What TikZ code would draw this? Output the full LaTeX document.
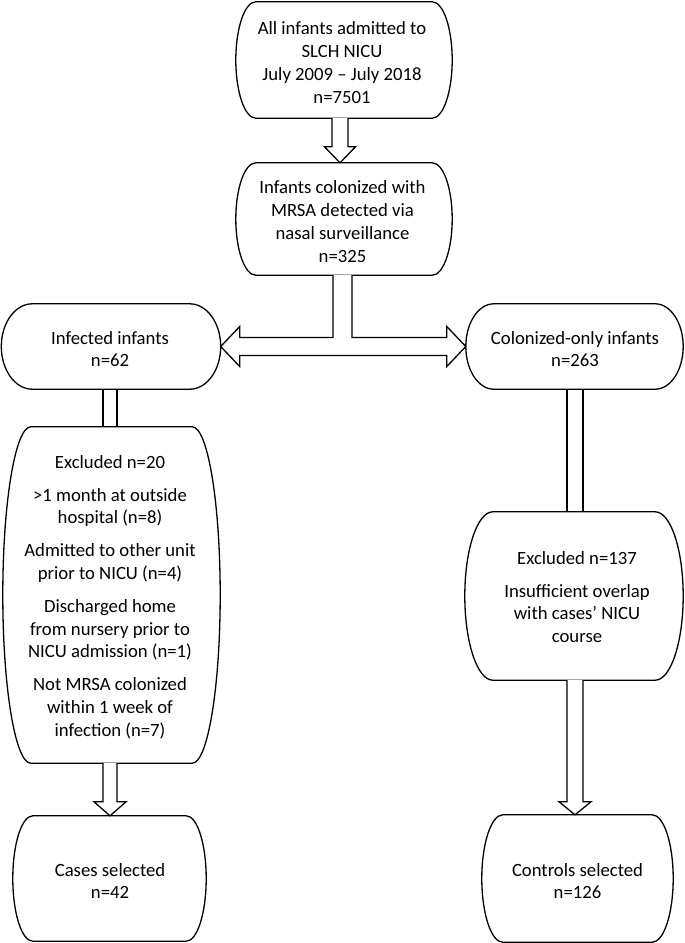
\documentclass[tikz,border=0pt]{standalone}
\usepackage{fontspec}
\setmainfont{Carlito}
\usetikzlibrary{calc}
\tikzset{
  boxline/.style={line width=1.3pt, draw=black},
  boxgeom/.style={draw=none, inner sep=0pt, anchor=center},
  flowtext/.style={draw=none, inner sep=0pt, align=center, anchor=center,
    font=\fontsize{18.7}{22.8}\selectfont},
  blockarrow/.style={line width=1.3pt, draw=black, fill=white, line join=miter},
  pipeline/.style={line width=1.3pt, draw=black}
}
% stadium-like box with half-elliptic ends, drawn round node #1 with end depth #2
\newcommand\stadiumbox[2]{%
  \draw[boxline] ([xshift=#2]#1.north west) -- ([xshift=-#2]#1.north east)
   .. controls ([xshift={-0.4477*#2}]#1.north east) and ($(#1.east)!0.5523!(#1.north east)$) .. (#1.east)
   .. controls ($(#1.east)!0.5523!(#1.south east)$) and ([xshift={-0.4477*#2}]#1.south east) .. ([xshift=-#2]#1.south east)
   -- ([xshift=#2]#1.south west)
   .. controls ([xshift={0.4477*#2}]#1.south west) and ($(#1.west)!0.5523!(#1.south west)$) .. (#1.west)
   .. controls ($(#1.west)!0.5523!(#1.north west)$) and ([xshift={0.4477*#2}]#1.north west) .. cycle;}
% block arrow down: from node #1 to node #2 on the vertical of #3; shaft half width #4, head half width #5, head length #6
\newcommand\blockdown[6]{%
  \draw[blockarrow] ($(#1.south -| #3)+(-#4,0)$) -- ($(#2.north -| #3)+(-#4,-#6)$)
    -- ($(#2.north -| #3)+(-#5,-#6)$) -- (#2.north -| #3) -- ($(#2.north -| #3)+(#5,-#6)$)
    -- ($(#2.north -| #3)+(#4,-#6)$) -- ($(#1.south -| #3)+(#4,0)$);}
% double line pipe (no head)
\newcommand\pipedown[4]{%
  \draw[pipeline] ($(#1.south -| #3)+(-#4,0)$) -- ($(#2.north -| #3)+(-#4,0)$);
  \draw[pipeline] ($(#1.south -| #3)+(#4,0)$) -- ($(#2.north -| #3)+(#4,0)$);}

\begin{document}
\begin{tikzpicture}[x=1pt, y=-1pt]
\fill[white] (0,0) rectangle (685,943);
\useasboundingbox (0,0) rectangle (685,943);

\coordinate (c1) at (340,0);
\coordinate (cT) at (342.5,0);
\coordinate (cL) at (110,0);
\coordinate (cR) at (575,0);

% box geometry
\node[boxgeom, minimum width=216pt, minimum height=116pt] (n1) at (344,60) {};
\node[boxgeom, minimum width=216pt, minimum height=112pt] (n2) at (344,219) {};
\node[boxgeom, minimum width=219pt, minimum height=85pt] (n3) at (111,346.5) {};
\node[boxgeom, minimum width=217pt, minimum height=85pt] (n4) at (574.5,346.5) {};
\node[boxgeom, minimum width=217pt, minimum height=336pt] (n5) at (111.5,595) {};
\node[boxgeom, minimum width=218pt, minimum height=168pt] (n6) at (574,596) {};
\node[boxgeom, minimum width=193pt, minimum height=125pt] (n7) at (109.5,878.5) {};
\node[boxgeom, minimum width=191pt, minimum height=127pt] (n8) at (577.5,878.5) {};

% texts
\node[flowtext] (t1) at ($(n1.center)+(-2,2.5)$)
  {All infants admitted to\\SLCH NICU\\July 2009 – July 2018\\n=7501};
\node[flowtext] (t2) at ($(n2.center)+(-1.5,2.5)$)
  {Infants colonized with\\MRSA detected via\\nasal surveillance\\n=325};
\node[flowtext] (t3) at ($(n3.center)+(-1,2.5)$)
  {Infected infants\\n=62};
\node[flowtext] (t4) at ($(n4.center)+(0.5,2.5)$)
  {Colonized-only infants\\n=263};
\node[flowtext] (t5) at ($(n5.center)+(-1.5,2)$)
  {Excluded n=20\\[10pt]
   >1 month at outside\\hospital (n=8)\\[10pt]
   Admitted to other unit\\prior to NICU (n=4)\\[10pt]
   Discharged home\\from nursery prior to\\NICU admission (n=1)\\[10pt]
   Not MRSA colonized\\within 1 week of\\infection (n=7)};
\node[flowtext] (t6) at ($(n6.center)+(3,1)$)
  {Excluded n=137\\[10pt]Insufficient overlap\\with cases’ NICU\\course};
\node[flowtext] (t7) at ($(n7.center)+(0.5,2.5)$)
  {Cases selected\\n=42};
\node[flowtext] (t8) at ($(n8.center)+(0,2.5)$)
  {Controls selected\\n=126};

\stadiumbox{n1}{20pt}
\stadiumbox{n2}{20pt}
\stadiumbox{n3}{31pt}
\stadiumbox{n4}{28pt}
\stadiumbox{n5}{28pt}
\stadiumbox{n6}{28pt}
\stadiumbox{n7}{20pt}
\stadiumbox{n8}{21pt}

% top arrow
\blockdown{n1}{n2}{c1}{8}{15.5}{16}

% T-shaped double-headed block arrow
\draw[blockarrow] ($(n2.south -| cT)+(-9.5,0)$) -- ($(n3.east -| cT)+(-9.5,-9)$)
  -- ($(n3.east)+(19,-9)$) -- ($(n3.east)+(19,-20)$) -- (n3.east)
  -- ($(n3.east)+(19,20)$) -- ($(n3.east)+(19,9)$)
  -- ($(n4.west)+(-19,9)$) -- ($(n4.west)+(-19,20)$) -- (n4.west)
  -- ($(n4.west)+(-19,-20)$) -- ($(n4.west)+(-19,-9)$)
  -- ($(n4.west -| cT)+(9.5,-9)$) -- ($(n2.south -| cT)+(9.5,0)$);

% left column
\pipedown{n3}{n5}{cL}{7}
\blockdown{n5}{n7}{cL}{7}{16}{14}

% right column
\pipedown{n4}{n6}{cR}{8}
\blockdown{n6}{n8}{cR}{8}{16}{13}
\end{tikzpicture}
\end{document}
